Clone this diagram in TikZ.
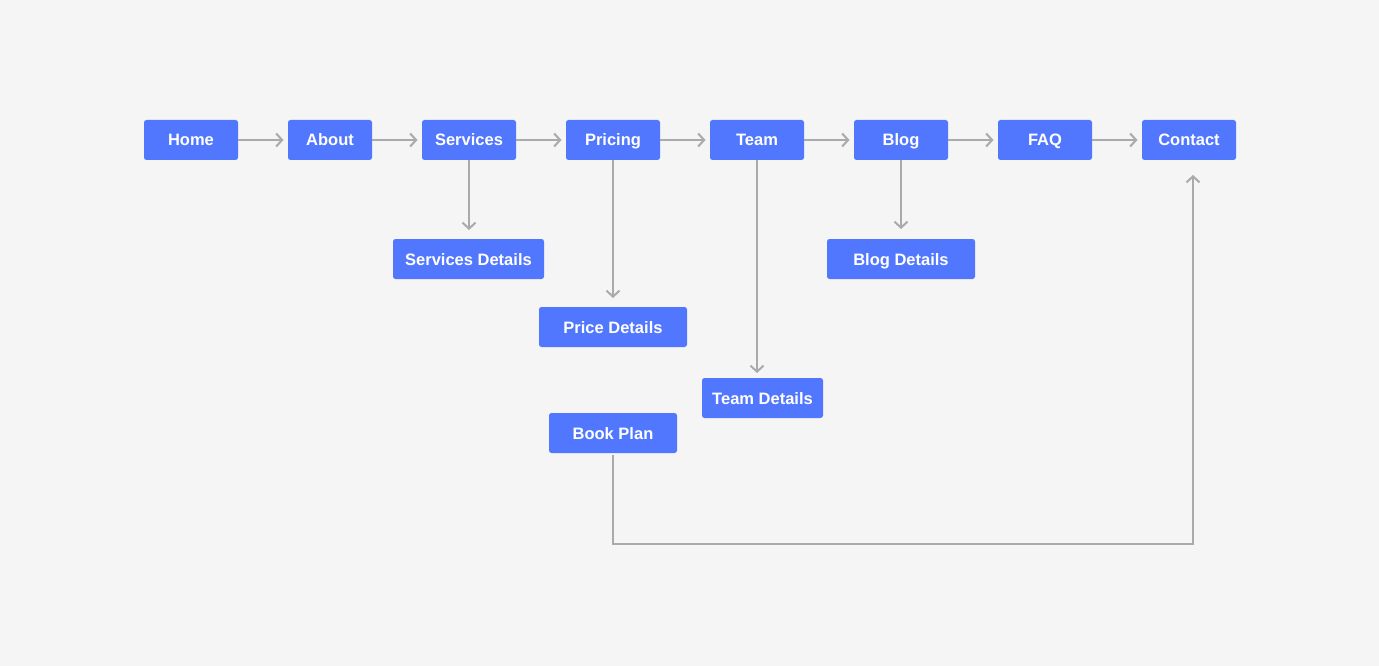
\documentclass[tikz,border=0pt]{standalone}
\usepackage{fontspec}
\setmainfont{Liberation Sans}
\usetikzlibrary{positioning}
\usetikzlibrary{calc}
\usetikzlibrary{arrows.meta}
\definecolor{page}{RGB}{245,245,245}
\definecolor{boxblue}{RGB}{82,119,255}
\definecolor{linegray}{RGB}{170,170,170}

\tikzset{
  page/.style={fill=page, draw=none},
  pagebox/.style={fill=boxblue, draw=none, rounded corners=2.5pt, text=white,
    font=\fontsize{16.5}{19}\selectfont\bfseries, minimum height=40pt,
    text height=12pt, text depth=0pt, inner sep=0pt, outer sep=0pt},
  link/.style={draw=linegray, line width=2pt,
    -{Straight Barb[length=6pt,width=13pt,line width=2pt]}},
}

\begin{document}
\begin{tikzpicture}[x=1pt, y=-1pt]
    % background
    \useasboundingbox (0,0) rectangle (1379,666);
    \fill[page] (0,0) rectangle (1379,666);

    % main row
    \foreach \name/\x/\w/\txt in {home/191/94/Home, about/330/84/About,
        services/469/94/Services, pricing/613/94/Pricing, team/757/94/Team,
        blog/901/94/Blog, faq/1045/94/FAQ, contact/1189/94/Contact}
      \node[pagebox, minimum width=\w pt] (\name) at (\x,140) {\txt};

    % detail pages
    \node[pagebox, minimum width=151pt] (servdet) at (468.5,259) {Services Details};
    \node[pagebox, minimum width=148pt] (pricedet) at (613,327) {Price Details};
    \node[pagebox, minimum width=121pt] (teamdet) at (762.5,398) {Team Details};
    \node[pagebox, minimum width=148pt] (blogdet) at (901,259) {Blog Details};
    \node[pagebox, minimum width=128pt] (book) at (613,433) {Book Plan};

    % arrows along the row
    \foreach \a/\b in {home/about, about/services, services/pricing,
        pricing/team, team/blog, blog/faq, faq/contact}
      \draw[link, shorten >=4.5pt] (\a) -- (\b);

    % arrows down
    \draw[link, shorten >=9pt] (services.south) -- (services.south |- servdet.north);
    \draw[link, shorten >=9pt] (pricing.south) -- (pricing.south |- pricedet.north);
    \draw[link, shorten >=5pt] (team.south) -- (team.south |- teamdet.north);
    \draw[link, shorten >=10pt] (blog.south) -- (blog.south |- blogdet.north);

    % back to contact
    \coordinate (turn) at (1193,544);
    \draw[link, shorten <=2pt, shorten >=15pt] (book.south) |- (turn)
      -- ([xshift=4pt]contact.south);
\end{tikzpicture}
\end{document}
